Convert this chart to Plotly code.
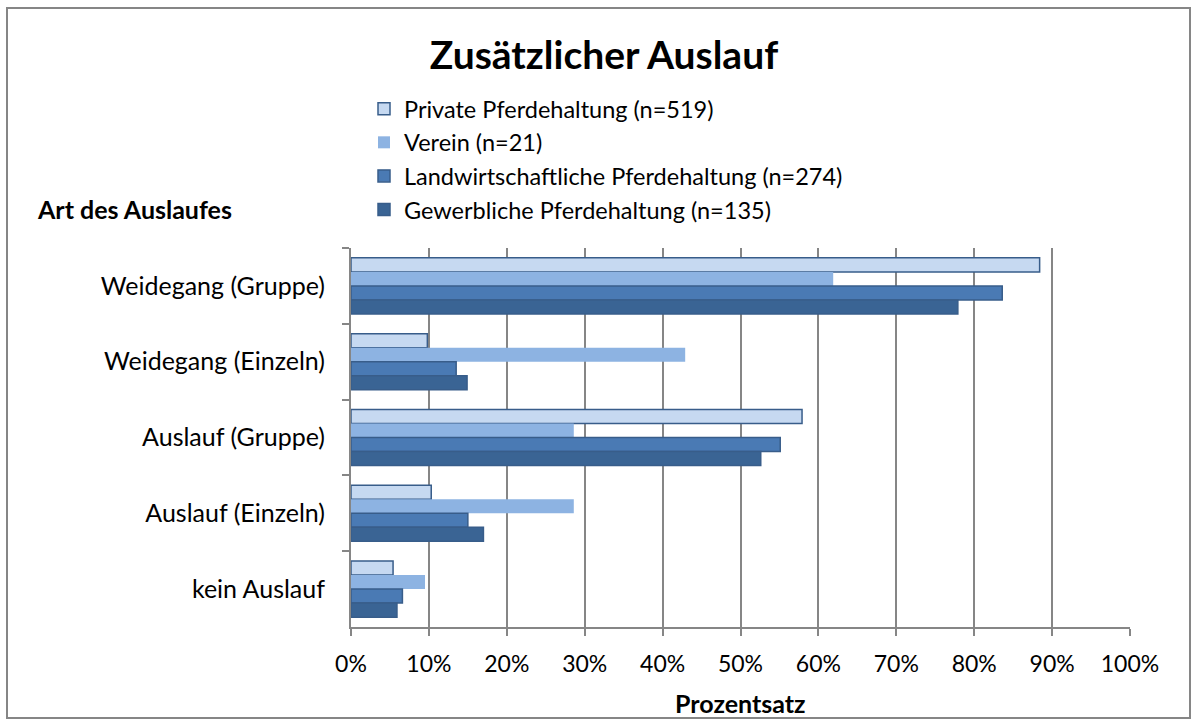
import plotly.graph_objects as go

categories = ["Weidegang (Gruppe)", "Weidegang (Einzeln)", "Auslauf (Gruppe)", "Auslauf (Einzeln)", "kein Auslauf"]
series_names = ["Private Pferdehaltung (n=519)", "Verein (n=21)",
                "Landwirtschaftliche Pferdehaltung (n=274)", "Gewerbliche Pferdehaltung (n=135)"]
private_vals = [0.884, 0.098, 0.579, 0.103, 0.054]
verein_vals = [0.619, 0.429, 0.286, 0.286, 0.095]
landw_vals = [0.836, 0.135, 0.551, 0.150, 0.066]
gewerb_vals = [0.779, 0.149, 0.526, 0.170, 0.059]
x_ticks = [0, 0.1, 0.2, 0.3, 0.4, 0.5, 0.6, 0.7, 0.8, 0.9, 1.0]
x_ticklabels = ["0%", "10%", "20%", "30%", "40%", "50%", "60%", "70%", "80%", "90%", "100%"]

fills = ["#C6D9F1", "#8DB3E2", "#4A7AB4", "#3A6494"]
outline = ["#385D8A", "rgba(0,0,0,0)", "#385D8A", "#385D8A"]
FONT = "Lato"

fig = go.Figure()
for name, vals, fc, lc in zip(series_names, [private_vals, verein_vals, landw_vals, gewerb_vals], fills, outline):
    fig.add_trace(go.Bar(
        y=categories, x=vals, name=name, orientation="h",
        marker=dict(color=fc, line=dict(color=lc, width=1.5)),
    ))

W, H = 1192, 720
L, R, T, B = 351, 62, 248, 93
pw, ph = W - L - R, H - T - B

def px(xpage):
    return (xpage - L) / pw

def py(ypage):
    return 1 - (ypage - T) / ph

fig.update_layout(
    width=W, height=H,
    margin=dict(l=L, r=R, t=T, b=B),
    paper_bgcolor="white", plot_bgcolor="white",
    barmode="group", bargap=0.26, bargroupgap=0,
    font=dict(family=FONT, color="black", size=24),
    title=dict(text="<b>Zusätzlicher Auslauf</b>", font=dict(size=39, family=FONT),
               x=px(604), xref="paper", xanchor="center", y=1 - 55 / H, yanchor="middle"),
    showlegend=True,
    legend=dict(x=px(364), y=py(87), xanchor="left", yanchor="top",
                font=dict(size=23.5, family=FONT), tracegroupgap=0,
                bgcolor="rgba(0,0,0,0)", itemwidth=30),
    xaxis=dict(range=[0, 1], tickvals=x_ticks, ticktext=x_ticklabels,
               showgrid=True, gridcolor="#868686", gridwidth=2,
               showline=True, linecolor="#868686", linewidth=2,
               ticks="outside", ticklen=7, tickcolor="#868686", tickwidth=2,
               ticklabelstandoff=8, tickfont=dict(size=23), zeroline=False),
    yaxis=dict(autorange="reversed", showline=True, linecolor="#868686", linewidth=2,
               ticks="outside", tickson="boundaries", ticklen=7, tickcolor="#868686", tickwidth=2,
               ticklabelstandoff=19, tickfont=dict(size=25), showgrid=False),
    annotations=[
        dict(text="<b>Art des Auslaufes</b>", x=px(35), y=py(209), xref="paper", yref="paper",
             xanchor="left", yanchor="middle", showarrow=False, font=dict(size=25, family=FONT)),
        dict(text="<b>Prozentsatz</b>", x=px(740), y=py(703), xref="paper", yref="paper",
             xanchor="center", yanchor="middle", showarrow=False, font=dict(size=25, family=FONT)),
    ],
    shapes=[dict(type="rect", xref="paper", yref="paper",
                 x0=px(7), x1=px(1190), y0=py(8), y1=py(718),
                 line=dict(color="#868686", width=2), layer="below")],
)

fig.write_html("out.html", config={"displayModeBar": False},
               post_script="document.body.style.margin='0';document.body.style.overflow='hidden';")
